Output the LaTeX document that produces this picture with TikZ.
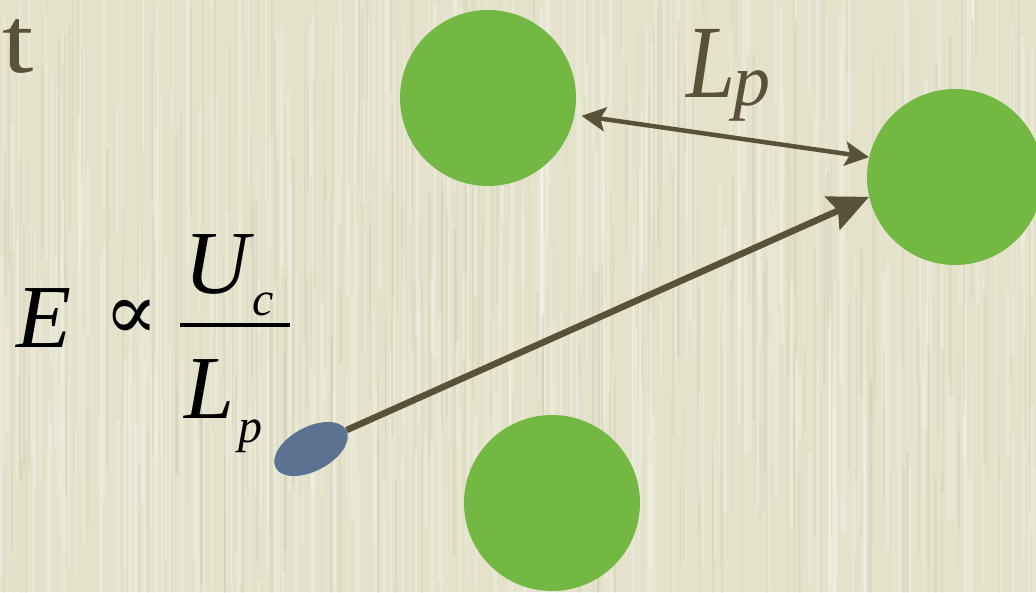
\documentclass[tikz,border=0pt]{standalone}
\usepackage{fontspec}
\setmainfont{Liberation Serif}
\newfontfamily\symserif{DejaVu Serif}
\usetikzlibrary{shapes.geometric,arrows.meta}
\definecolor{bgc}{HTML}{E5E2CC}
\definecolor{ballgreen}{HTML}{72B843}
\definecolor{olive}{HTML}{5A5238}
\definecolor{probe}{HTML}{5B7290}
\tikzset{
  ball/.style={circle, fill=ballgreen, minimum size=176pt, inner sep=0pt},
  probenode/.style={ellipse, fill=probe, minimum width=80pt, minimum height=44pt, inner sep=0pt, rotate=28},
  txt/.style={inner sep=0pt, anchor=base west},
  mainarrow/.style={olive, line width=6.5pt, -{Stealth[length=40pt,width=36pt,inset=6pt]}},
  dblarrow/.style={olive, line width=4.5pt, {Stealth[length=24pt,width=24pt,inset=5pt]}-{Stealth[length=24pt,width=24pt,inset=5pt]}}
}
\begin{document}
\begin{tikzpicture}[x=1pt,y=-1pt]
\useasboundingbox (0,0) rectangle (1036,592);
\fill[bgc] (0,0) rectangle (1036,592);
\pgfmathsetseed{7}
\begin{scope}
\clip (0,0) rectangle (1036,592);
\foreach \i in {1,...,420}{
  \pgfmathsetmacro{\xx}{rnd*1036}
  \pgfmathsetmacro{\yy}{rnd*592-100}
  \pgfmathsetmacro{\ll}{80+rnd*300}
  \pgfmathsetmacro{\ww}{1+rnd*3}
  \draw[white, opacity=0.18, line width=\ww pt] (\xx,\yy) -- ++(0,\ll);
}
\foreach \i in {1,...,260}{
  \pgfmathsetmacro{\xx}{rnd*1036}
  \pgfmathsetmacro{\yy}{rnd*592-100}
  \pgfmathsetmacro{\ll}{80+rnd*300}
  \pgfmathsetmacro{\ww}{0.8+rnd*2}
  \draw[olive, opacity=0.05, line width=\ww pt] (\xx,\yy) -- ++(0,\ll);
}
\end{scope}

% balls
\node[ball] (top) at (488,98) {};
\node[ball] (right) at (955,177) {};
\node[ball] (bottom) at (552,503) {};
\node[probenode] (probe) at (311,449) {};

% arrows
\draw[mainarrow] (probe.east) -- (right.193);
\draw[dblarrow, shorten <=7pt] (top.-11) -- (right.167);

% title fragment
\node[txt, text=olive, font=\fontsize{94}{94}\selectfont, xscale=1.2] (tfrag) at (2,72) {t};

% L_p label
\node[txt, text=olive, font=\fontsize{104}{104}\itshape, xscale=0.85] (lbl) at (686,97) {L};
\node[txt, text=olive, font=\fontsize{74}{74}\itshape] (lblp) at (733,105) {p};

% formula
\node[txt, font=\fontsize{90}{90}\itshape] (fE) at (16,347) {E};
\node[inner sep=0pt, font=\fontsize{80}{80}\symserif] (fprop) at (132,320) {∝};
\coordinate (barL) at (180,325);
\coordinate (barR) at (290,325);
\draw[black, line width=3.5pt] (barL) -- (barR);
\node[txt, font=\fontsize{90}{90}\itshape] (fU) at (184,293) {U};
\node[txt, font=\fontsize{48}{48}\itshape] (fc) at (252,315) {c};
\node[txt, font=\fontsize{90}{90}\itshape] (fL) at (184,418) {L};
\node[txt, font=\fontsize{48}{48}\itshape] (fp) at (238,442) {p};
\end{tikzpicture}
\end{document}
